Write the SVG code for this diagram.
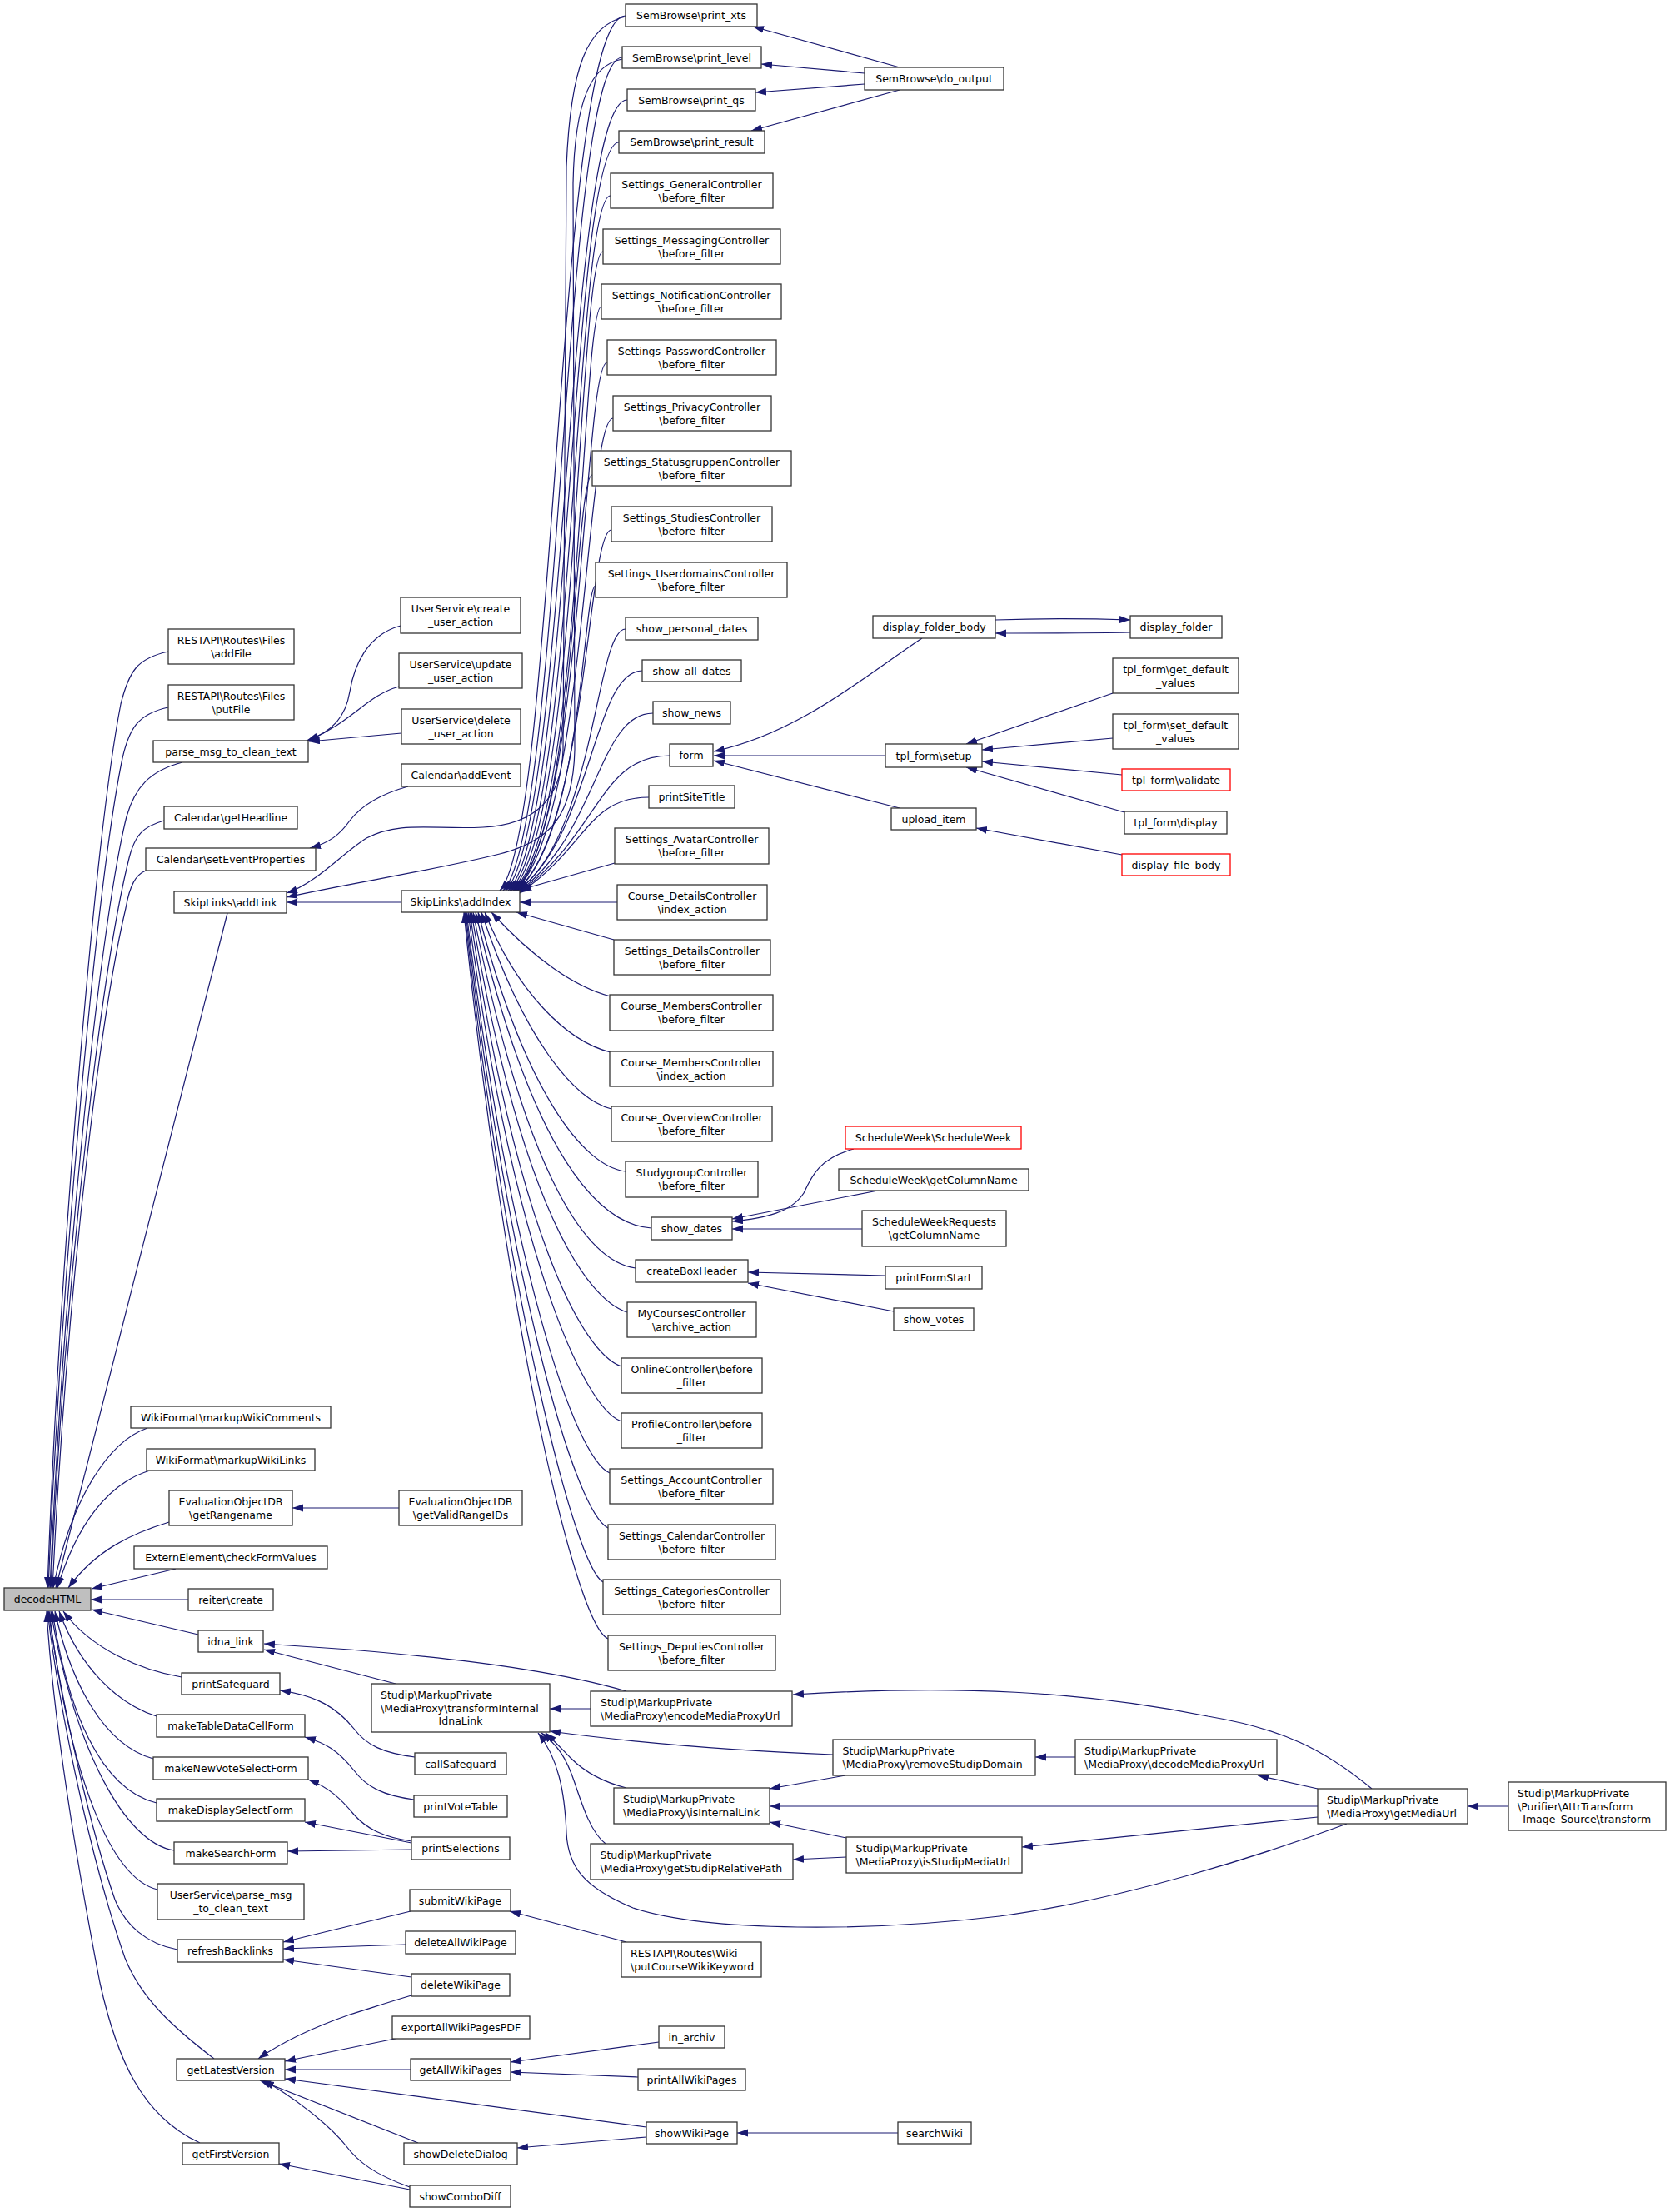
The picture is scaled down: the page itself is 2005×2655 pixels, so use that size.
<svg xmlns="http://www.w3.org/2000/svg" width="2005" height="2655" viewBox="0 0 2005 2655">
<defs>
<style>
.nd rect{fill:#fff;stroke:#333;stroke-width:1.3}
.root rect{fill:#bfbfbf}
.red rect{stroke:#f00}
text{font-family:"DejaVu Sans",sans-serif;font-size:12.5px;fill:#000}
.c{text-anchor:middle}
.e path{fill:none;stroke:#191970;stroke-width:1.2;marker-end:url(#ah)}
</style>
<marker id="ah" markerUnits="userSpaceOnUse" markerWidth="14" markerHeight="10" refX="13" refY="4.5" orient="auto"><path d="M0,0 L13,4.5 L0,9 z" fill="#191970"/></marker>
</defs>
<rect width="2005" height="2655" fill="#fff"/>
<g id="edges" class="e">
<!-- to decodeHTML -->
<path d="M202,782 C165,790 155,805 145,845 C115,1000 72,1500 57,1906"/>
<path d="M202,849 C165,857 155,875 147,910 C118,1050 75,1500 58,1906"/>
<path d="M219,915 C180,925 162,945 152,980 C122,1100 78,1500 60,1906"/>
<path d="M197,985 C172,992 162,1002 155,1030 C125,1150 80,1500 61,1906"/>
<path d="M175,1045 C163,1050 156,1062 151,1090 C125,1200 83,1500 63,1906"/>
<path d="M273,1096 L67,1906"/>
<path d="M177,1714 C130,1730 85,1800 64,1906"/>
<path d="M180,1765 C130,1780 92,1830 69,1906"/>
<path d="M203,1827 C160,1840 115,1860 82,1906"/>
<path d="M211,1883 L110,1907"/>
<path d="M226,1920 L109,1920"/>
<path d="M238,1962 L110,1932"/>
<path d="M218,2013 C170,2005 110,1980 76,1934"/>
<path d="M188,2060 C140,2045 95,2000 71,1934"/>
<path d="M184,2111 C125,2095 85,2020 66,1934"/>
<path d="M188,2164 C120,2148 80,2050 63,1934"/>
<path d="M209,2221 C150,2212 90,2100 61,1934"/>
<path d="M189,2268 C135,2255 85,2140 59,1934"/>
<path d="M213,2340 C175,2333 150,2310 138,2280 C110,2200 75,2050 58,1934"/>
<path d="M257,2471 C210,2435 170,2400 150,2350 C115,2250 75,2080 57,1934"/>
<path d="M240,2572 C170,2540 140,2470 120,2380 C95,2250 65,2080 56,1934"/>
<!-- parse_msg, setEventProperties -->
<path d="M481,751 C440,762 425,800 420,830 C415,860 400,878 368,889"/>
<path d="M479,824 C440,835 425,865 370,889"/>
<path d="M482,880 L371,890"/>
<path d="M490,944 C450,955 430,972 420,985 C408,1002 395,1012 372,1018"/>
<!-- addLink -->
<path d="M482,1083 L344,1083"/>
<path d="M751,20 C705,30 685,80 680,200 L676,900 C674,960 640,990 580,993 C520,996 480,985 440,1006 C410,1025 380,1060 344,1072"/>
<path d="M747,71 C710,78 690,120 688,220 L690,900 C688,980 660,1010 600,1025 C520,1045 420,1060 344,1077"/>
<!-- addIndex upper -->
<path d="M751,19 C668,19 668,1000 600,1069"/>
<path d="M747,69 C675,69 675,1000 604,1069"/>
<path d="M753,120 C680,120 680,1000 607,1069"/>
<path d="M743,171 C685,171 685,1000 610,1069"/>
<path d="M733,235 C690,235 690,1000 612,1069"/>
<path d="M724,302 C694,302 694,1000 614,1069"/>
<path d="M722,368 C698,368 698,1000 616,1069"/>
<path d="M729,435 C700,435 700,1000 617,1069"/>
<path d="M736,502 C703,502 703,1000 618,1069"/>
<path d="M711,570 C690,570 690,1000 619,1069"/>
<path d="M734,636 C705,636 705,1000 620,1069"/>
<path d="M715,703 C700,703 700,1000 621,1069"/>
<path d="M751,755 C715,755 715,1000 622,1069"/>
<path d="M771,805 C712,805 712,1000 622,1069"/>
<path d="M784,856 C718,856 718,1000 623,1070"/>
<path d="M804,907 C720,907 720,1000 624,1071"/>
<path d="M779,957 C705,957 705,1017 624,1072"/>
<path d="M738,1036 L625,1068"/>
<path d="M741,1083 L624,1083"/>
<!-- addIndex lower -->
<path d="M737,1128 L620,1095"/>
<path d="M733,1196 C690,1185 640,1150 590,1095"/>
<path d="M733,1263 C680,1250 620,1190 582,1095"/>
<path d="M734,1331 C690,1320 630,1250 578,1095"/>
<path d="M751,1406 C700,1400 630,1310 574,1095"/>
<path d="M782,1474 C720,1470 640,1390 571,1095"/>
<path d="M763,1522 C710,1515 635,1430 568,1095"/>
<path d="M753,1575 C705,1560 625,1450 566,1095"/>
<path d="M746,1640 C700,1625 620,1480 564,1095"/>
<path d="M746,1706 C700,1690 615,1500 562,1095"/>
<path d="M732,1768 C690,1750 612,1520 560,1095"/>
<path d="M730,1834 C690,1815 610,1540 559,1095"/>
<path d="M724,1899 C690,1880 608,1560 558,1095"/>
<path d="M730,1967 C690,1950 606,1580 557,1095"/>
<!-- SemBrowse -->
<path d="M1080,81 L904,32"/>
<path d="M1038,88 L914,77"/>
<path d="M1038,101 L907,111"/>
<path d="M1080,108 L902,157"/>
<!-- form, folder, tpl_form -->
<path d="M1107,766 C1040,810 960,880 857,902"/>
<path d="M1063,907 L857,907"/>
<path d="M1080,970 L857,913"/>
<path d="M1195,744 C1250,742 1300,742 1357,744"/>
<path d="M1357,759 C1300,760 1250,760 1195,760"/>
<path d="M1336,832 L1160,893"/>
<path d="M1336,886 L1179,900"/>
<path d="M1347,930 L1179,914"/>
<path d="M1350,975 L1160,921"/>
<path d="M1347,1026 L1172,994"/>
<!-- show_dates, createBoxHeader -->
<path d="M1025,1379 C985,1390 975,1410 965,1432 C950,1455 920,1462 879,1466"/>
<path d="M1054,1429 L879,1463"/>
<path d="M1035,1475 L879,1475"/>
<path d="M1063,1531 L898,1527"/>
<path d="M1073,1574 L898,1540"/>
<!-- misc column 1/2 -->
<path d="M479,1810 L351,1810"/>
<path d="M752,2030 C690,2012 600,1995 420,1980 L317,1973"/>
<path d="M475,2021 L317,1980"/>
<path d="M498,2109 C460,2104 440,2095 425,2075 C405,2050 380,2035 336,2029"/>
<path d="M497,2160 C460,2155 440,2145 425,2125 C405,2100 390,2092 366,2085"/>
<path d="M494,2210 C460,2205 440,2195 425,2178 C410,2160 395,2145 370,2136"/>
<path d="M494,2212 L366,2187"/>
<path d="M494,2220 L345,2222"/>
<path d="M493,2294 L340,2331"/>
<path d="M487,2334 L340,2339"/>
<path d="M494,2373 L340,2352"/>
<path d="M494,2395 C460,2405 440,2412 420,2418 C380,2432 340,2450 310,2471"/>
<path d="M479,2446 L342,2474"/>
<path d="M493,2484 L342,2484"/>
<path d="M776,2553 L342,2495"/>
<path d="M502,2572 L312,2497"/>
<path d="M492,2625 C450,2610 430,2595 415,2575 C395,2550 350,2515 316,2497"/>
<path d="M492,2628 L335,2597"/>
<path d="M791,2451 L613,2475"/>
<path d="M766,2493 L613,2487"/>
<path d="M776,2565 L621,2578"/>
<path d="M1078,2560 L885,2560"/>
<path d="M752,2331 L612,2294"/>
<!-- MediaProxy -->
<path d="M709,2051 L660,2051"/>
<path d="M1000,2106 C850,2100 750,2090 660,2078"/>
<path d="M752,2146 C720,2138 700,2125 685,2110 C675,2100 668,2092 655,2080"/>
<path d="M727,2213 C710,2200 700,2170 690,2140 C680,2110 670,2095 650,2080"/>
<path d="M1617,2189 C1520,2225 1350,2280 1200,2300 C1050,2318 850,2320 760,2290 C700,2265 682,2240 680,2200 C678,2150 670,2110 646,2080"/>
<path d="M1647,2147 C1590,2100 1540,2075 1450,2060 C1300,2030 1150,2022 952,2034"/>
<path d="M1291,2109 L1243,2109"/>
<path d="M1582,2147 L1510,2131"/>
<path d="M1015,2131 L924,2147"/>
<path d="M1582,2168 L924,2168"/>
<path d="M1016,2206 L924,2187"/>
<path d="M1582,2181 L1227,2217"/>
<path d="M1016,2229 L952,2232"/>
<path d="M1811,2168 L1762,2168"/>
</g>
<g id="nodes">
<g id="n_decodeHTML" class="nd root"><rect x="5" y="1906" width="104" height="27"/><text class="c" x="57" y="1924">decodeHTML</text></g>
<g id="n_addFile" class="nd"><rect x="202" y="755" width="151" height="42"/><text class="c" x="277.5" y="772.5">RESTAPI\Routes\Files</text><text class="c" x="277.5" y="788.5">\addFile</text></g>
<g id="n_putFile" class="nd"><rect x="202" y="822" width="151" height="42"/><text class="c" x="277.5" y="839.5">RESTAPI\Routes\Files</text><text class="c" x="277.5" y="855.5">\putFile</text></g>
<g id="n_parse_msg" class="nd"><rect x="184" y="889" width="186" height="26"/><text class="c" x="277" y="906.5">parse_msg_to_clean_text</text></g>
<g id="n_getHeadline" class="nd"><rect x="197" y="968" width="160" height="27"/><text class="c" x="277" y="986">Calendar\getHeadline</text></g>
<g id="n_setEventProperties" class="nd"><rect x="175" y="1018" width="204" height="27"/><text class="c" x="277" y="1036">Calendar\setEventProperties</text></g>
<g id="n_addLink" class="nd"><rect x="209" y="1070" width="135" height="26"/><text class="c" x="276.5" y="1087.5">SkipLinks\addLink</text></g>
<g id="n_markupWikiComments" class="nd"><rect x="157" y="1688" width="240" height="26"/><text class="c" x="277" y="1705.5">WikiFormat\markupWikiComments</text></g>
<g id="n_markupWikiLinks" class="nd"><rect x="176" y="1739" width="202" height="26"/><text class="c" x="277" y="1756.5">WikiFormat\markupWikiLinks</text></g>
<g id="n_getRangename" class="nd"><rect x="203" y="1789" width="148" height="42"/><text class="c" x="277" y="1806.5">EvaluationObjectDB</text><text class="c" x="277" y="1822.5">\getRangename</text></g>
<g id="n_checkFormValues" class="nd"><rect x="161" y="1856" width="232" height="27"/><text class="c" x="277" y="1874">ExternElement\checkFormValues</text></g>
<g id="n_reiter_create" class="nd"><rect x="226" y="1907" width="102" height="26"/><text class="c" x="277" y="1924.5">reiter\create</text></g>
<g id="n_idna_link" class="nd"><rect x="238" y="1957" width="78" height="26"/><text class="c" x="277" y="1974.5">idna_link</text></g>
<g id="n_printSafeguard" class="nd"><rect x="218" y="2008" width="118" height="26"/><text class="c" x="277" y="2025.5">printSafeguard</text></g>
<g id="n_makeTableDataCellForm" class="nd"><rect x="188" y="2058" width="178" height="27"/><text class="c" x="277" y="2076">makeTableDataCellForm</text></g>
<g id="n_makeNewVoteSelectForm" class="nd"><rect x="184" y="2109" width="186" height="27"/><text class="c" x="277" y="2127">makeNewVoteSelectForm</text></g>
<g id="n_makeDisplaySelectForm" class="nd"><rect x="188" y="2159" width="178" height="27"/><text class="c" x="277" y="2177">makeDisplaySelectForm</text></g>
<g id="n_makeSearchForm" class="nd"><rect x="209" y="2211" width="136" height="26"/><text class="c" x="277" y="2228.5">makeSearchForm</text></g>
<g id="n_us_parse_msg" class="nd"><rect x="189" y="2261" width="176" height="43"/><text class="c" x="277" y="2279">UserService\parse_msg</text><text class="c" x="277" y="2295">_to_clean_text</text></g>
<g id="n_refreshBacklinks" class="nd"><rect x="213" y="2328" width="127" height="27"/><text class="c" x="276.5" y="2346">refreshBacklinks</text></g>
<g id="n_getLatestVersion" class="nd"><rect x="212" y="2471" width="130" height="26"/><text class="c" x="277" y="2488.5">getLatestVersion</text></g>
<g id="n_getFirstVersion" class="nd"><rect x="219" y="2572" width="116" height="26"/><text class="c" x="277" y="2589.5">getFirstVersion</text></g>

<g id="n_create_user_action" class="nd"><rect x="481" y="717" width="144" height="43"/><text class="c" x="553" y="735">UserService\create</text><text class="c" x="553" y="751">_user_action</text></g>
<g id="n_update_user_action" class="nd"><rect x="479" y="784" width="148" height="42"/><text class="c" x="553" y="801.5">UserService\update</text><text class="c" x="553" y="817.5">_user_action</text></g>
<g id="n_delete_user_action" class="nd"><rect x="482" y="851" width="143" height="42"/><text class="c" x="553.5" y="868.5">UserService\delete</text><text class="c" x="553.5" y="884.5">_user_action</text></g>
<g id="n_addEvent" class="nd"><rect x="482" y="917" width="143" height="27"/><text class="c" x="553.5" y="935">Calendar\addEvent</text></g>
<g id="n_addIndex" class="nd"><rect x="482" y="1069" width="142" height="26"/><text class="c" x="553" y="1086.5">SkipLinks\addIndex</text></g>
<g id="n_getValidRangeIDs" class="nd"><rect x="479" y="1789" width="148" height="42"/><text class="c" x="553" y="1806.5">EvaluationObjectDB</text><text class="c" x="553" y="1822.5">\getValidRangeIDs</text></g>
<g id="n_transformInternalIdnaLink" class="nd"><rect x="446" y="2021" width="214" height="58"/><text x="457" y="2039">Studip\MarkupPrivate</text><text x="457" y="2054.5">\MediaProxy\transformInternal</text><text class="c" x="553" y="2070">IdnaLink</text></g>
<g id="n_callSafeguard" class="nd"><rect x="498" y="2104" width="110" height="26"/><text class="c" x="553" y="2121.5">callSafeguard</text></g>
<g id="n_printVoteTable" class="nd"><rect x="497" y="2155" width="112" height="26"/><text class="c" x="553" y="2172.5">printVoteTable</text></g>
<g id="n_printSelections" class="nd"><rect x="494" y="2205" width="118" height="27"/><text class="c" x="553" y="2223">printSelections</text></g>
<g id="n_submitWikiPage" class="nd"><rect x="492" y="2268" width="121" height="26"/><text class="c" x="552.5" y="2285.5">submitWikiPage</text></g>
<g id="n_deleteAllWikiPage" class="nd"><rect x="487" y="2318" width="132" height="27"/><text class="c" x="553" y="2336">deleteAllWikiPage</text></g>
<g id="n_deleteWikiPage" class="nd"><rect x="494" y="2369" width="118" height="27"/><text class="c" x="553" y="2387">deleteWikiPage</text></g>
<g id="n_exportAllWikiPagesPDF" class="nd"><rect x="471" y="2420" width="165" height="27"/><text class="c" x="553.5" y="2438">exportAllWikiPagesPDF</text></g>
<g id="n_getAllWikiPages" class="nd"><rect x="493" y="2471" width="120" height="26"/><text class="c" x="553" y="2488.5">getAllWikiPages</text></g>
<g id="n_showDeleteDialog" class="nd"><rect x="485" y="2572" width="136" height="26"/><text class="c" x="553" y="2589.5">showDeleteDialog</text></g>
<g id="n_showComboDiff" class="nd"><rect x="492" y="2623" width="121" height="26"/><text class="c" x="552.5" y="2640.5">showComboDiff</text></g>

<g id="n_print_xts" class="nd"><rect x="751" y="5" width="158" height="27"/><text class="c" x="830" y="23">SemBrowse\print_xts</text></g>
<g id="n_print_level" class="nd"><rect x="747" y="56" width="167" height="26"/><text class="c" x="830.5" y="73.5">SemBrowse\print_level</text></g>
<g id="n_print_qs" class="nd"><rect x="753" y="107" width="154" height="26"/><text class="c" x="830" y="124.5">SemBrowse\print_qs</text></g>
<g id="n_print_result" class="nd"><rect x="743" y="157" width="175" height="27"/><text class="c" x="830.5" y="175">SemBrowse\print_result</text></g>
<g id="n_s_general" class="nd"><rect x="733" y="208" width="195" height="42"/><text class="c" x="830.5" y="225.5">Settings_GeneralController</text><text class="c" x="830.5" y="241.5">\before_filter</text></g>
<g id="n_s_messaging" class="nd"><rect x="724" y="275" width="213" height="42"/><text class="c" x="830.5" y="292.5">Settings_MessagingController</text><text class="c" x="830.5" y="308.5">\before_filter</text></g>
<g id="n_s_notification" class="nd"><rect x="722" y="341" width="216" height="42"/><text class="c" x="830" y="358.5">Settings_NotificationController</text><text class="c" x="830" y="374.5">\before_filter</text></g>
<g id="n_s_password" class="nd"><rect x="729" y="408" width="203" height="42"/><text class="c" x="830.5" y="425.5">Settings_PasswordController</text><text class="c" x="830.5" y="441.5">\before_filter</text></g>
<g id="n_s_privacy" class="nd"><rect x="736" y="475" width="190" height="42"/><text class="c" x="831" y="492.5">Settings_PrivacyController</text><text class="c" x="831" y="508.5">\before_filter</text></g>
<g id="n_s_statusgruppen" class="nd"><rect x="711" y="541" width="239" height="42"/><text class="c" x="830.5" y="558.5">Settings_StatusgruppenController</text><text class="c" x="830.5" y="574.5">\before_filter</text></g>
<g id="n_s_studies" class="nd"><rect x="734" y="608" width="193" height="42"/><text class="c" x="830.5" y="625.5">Settings_StudiesController</text><text class="c" x="830.5" y="641.5">\before_filter</text></g>
<g id="n_s_userdomains" class="nd"><rect x="715" y="675" width="230" height="42"/><text class="c" x="830" y="692.5">Settings_UserdomainsController</text><text class="c" x="830" y="708.5">\before_filter</text></g>
<g id="n_show_personal_dates" class="nd"><rect x="751" y="741" width="159" height="27"/><text class="c" x="830.5" y="759">show_personal_dates</text></g>
<g id="n_show_all_dates" class="nd"><rect x="771" y="792" width="119" height="26"/><text class="c" x="830.5" y="809.5">show_all_dates</text></g>
<g id="n_show_news" class="nd"><rect x="784" y="842" width="93" height="27"/><text class="c" x="830.5" y="860">show_news</text></g>
<g id="n_form" class="nd"><rect x="804" y="893" width="52" height="27"/><text class="c" x="830" y="911">form</text></g>
<g id="n_printSiteTitle" class="nd"><rect x="779" y="943" width="103" height="27"/><text class="c" x="830.5" y="961">printSiteTitle</text></g>
<g id="n_s_avatar" class="nd"><rect x="738" y="994" width="185" height="43"/><text class="c" x="830.5" y="1012">Settings_AvatarController</text><text class="c" x="830.5" y="1028">\before_filter</text></g>
<g id="n_c_details" class="nd"><rect x="741" y="1062" width="180" height="42"/><text class="c" x="831" y="1079.5">Course_DetailsController</text><text class="c" x="831" y="1095.5">\index_action</text></g>
<g id="n_s_details" class="nd"><rect x="737" y="1128" width="188" height="42"/><text class="c" x="831" y="1145.5">Settings_DetailsController</text><text class="c" x="831" y="1161.5">\before_filter</text></g>
<g id="n_c_members_bf" class="nd"><rect x="732" y="1194" width="196" height="43"/><text class="c" x="830" y="1212">Course_MembersController</text><text class="c" x="830" y="1228">\before_filter</text></g>
<g id="n_c_members_idx" class="nd"><rect x="732" y="1262" width="196" height="42"/><text class="c" x="830" y="1279.5">Course_MembersController</text><text class="c" x="830" y="1295.5">\index_action</text></g>
<g id="n_c_overview" class="nd"><rect x="734" y="1328" width="193" height="42"/><text class="c" x="830.5" y="1345.5">Course_OverviewController</text><text class="c" x="830.5" y="1361.5">\before_filter</text></g>
<g id="n_studygroup" class="nd"><rect x="751" y="1394" width="159" height="43"/><text class="c" x="830.5" y="1412">StudygroupController</text><text class="c" x="830.5" y="1428">\before_filter</text></g>
<g id="n_show_dates" class="nd"><rect x="782" y="1461" width="97" height="27"/><text class="c" x="830.5" y="1479">show_dates</text></g>
<g id="n_createBoxHeader" class="nd"><rect x="763" y="1512" width="135" height="27"/><text class="c" x="830.5" y="1530">createBoxHeader</text></g>
<g id="n_mycourses" class="nd"><rect x="753" y="1563" width="155" height="42"/><text class="c" x="830.5" y="1580.5">MyCoursesController</text><text class="c" x="830.5" y="1596.5">\archive_action</text></g>
<g id="n_online" class="nd"><rect x="746" y="1630" width="169" height="42"/><text class="c" x="830.5" y="1647.5">OnlineController\before</text><text class="c" x="830.5" y="1663.5">_filter</text></g>
<g id="n_profile" class="nd"><rect x="746" y="1696" width="169" height="42"/><text class="c" x="830.5" y="1713.5">ProfileController\before</text><text class="c" x="830.5" y="1729.5">_filter</text></g>
<g id="n_s_account" class="nd"><rect x="732" y="1763" width="196" height="42"/><text class="c" x="830" y="1780.5">Settings_AccountController</text><text class="c" x="830" y="1796.5">\before_filter</text></g>
<g id="n_s_calendar" class="nd"><rect x="730" y="1830" width="201" height="42"/><text class="c" x="830.5" y="1847.5">Settings_CalendarController</text><text class="c" x="830.5" y="1863.5">\before_filter</text></g>
<g id="n_s_categories" class="nd"><rect x="724" y="1896" width="213" height="42"/><text class="c" x="830.5" y="1913.5">Settings_CategoriesController</text><text class="c" x="830.5" y="1929.5">\before_filter</text></g>
<g id="n_s_deputies" class="nd"><rect x="730" y="1963" width="201" height="42"/><text class="c" x="830.5" y="1980.5">Settings_DeputiesController</text><text class="c" x="830.5" y="1996.5">\before_filter</text></g>
<g id="n_encodeMediaProxyUrl" class="nd"><rect x="709" y="2030" width="242" height="42"/><text x="721" y="2047.5">Studip\MarkupPrivate</text><text x="721" y="2063.5">\MediaProxy\encodeMediaProxyUrl</text></g>
<g id="n_isInternalLink" class="nd"><rect x="737" y="2146" width="187" height="43"/><text x="748" y="2164">Studip\MarkupPrivate</text><text x="748" y="2180">\MediaProxy\isInternalLink</text></g>
<g id="n_getStudipRelativePath" class="nd"><rect x="709" y="2213" width="243" height="43"/><text x="720.5" y="2231">Studip\MarkupPrivate</text><text x="720.5" y="2247">\MediaProxy\getStudipRelativePath</text></g>
<g id="n_putCourseWikiKeyword" class="nd"><rect x="746" y="2331" width="168" height="42"/><text x="757" y="2348.5">RESTAPI\Routes\Wiki</text><text x="757" y="2364.5">\putCourseWikiKeyword</text></g>
<g id="n_in_archiv" class="nd"><rect x="791" y="2432" width="79" height="26"/><text class="c" x="830.5" y="2449.5">in_archiv</text></g>
<g id="n_printAllWikiPages" class="nd"><rect x="766" y="2483" width="129" height="26"/><text class="c" x="830.5" y="2500.5">printAllWikiPages</text></g>
<g id="n_showWikiPage" class="nd"><rect x="776" y="2547" width="109" height="26"/><text class="c" x="830.5" y="2564.5">showWikiPage</text></g>

<g id="n_do_output" class="nd"><rect x="1038" y="81" width="167" height="27"/><text class="c" x="1121.5" y="99">SemBrowse\do_output</text></g>
<g id="n_display_folder_body" class="nd"><rect x="1048" y="739" width="147" height="27"/><text class="c" x="1121.5" y="757">display_folder_body</text></g>
<g id="n_tpl_setup" class="nd"><rect x="1063" y="893" width="116" height="28"/><text class="c" x="1121" y="911.5">tpl_form\setup</text></g>
<g id="n_upload_item" class="nd"><rect x="1070" y="970" width="102" height="26"/><text class="c" x="1121" y="987.5">upload_item</text></g>
<g id="n_ScheduleWeek" class="nd red"><rect x="1015" y="1352" width="211" height="27"/><text class="c" x="1120.5" y="1370">ScheduleWeek\ScheduleWeek</text></g>
<g id="n_sw_getColumnName" class="nd"><rect x="1007" y="1403" width="228" height="26"/><text class="c" x="1121" y="1420.5">ScheduleWeek\getColumnName</text></g>
<g id="n_swr_getColumnName" class="nd"><rect x="1035" y="1453" width="173" height="43"/><text class="c" x="1121.5" y="1471">ScheduleWeekRequests</text><text class="c" x="1121.5" y="1487">\getColumnName</text></g>
<g id="n_printFormStart" class="nd"><rect x="1063" y="1520" width="116" height="27"/><text class="c" x="1121" y="1538">printFormStart</text></g>
<g id="n_show_votes" class="nd"><rect x="1073" y="1570" width="96" height="27"/><text class="c" x="1121" y="1588">show_votes</text></g>
<g id="n_removeStudipDomain" class="nd"><rect x="1000" y="2088" width="243" height="43"/><text x="1011.5" y="2106">Studip\MarkupPrivate</text><text x="1011.5" y="2122">\MediaProxy\removeStudipDomain</text></g>
<g id="n_isStudipMediaUrl" class="nd"><rect x="1016" y="2205" width="211" height="43"/><text x="1027.5" y="2223">Studip\MarkupPrivate</text><text x="1027.5" y="2239">\MediaProxy\isStudipMediaUrl</text></g>
<g id="n_searchWiki" class="nd"><rect x="1078" y="2547" width="88" height="26"/><text class="c" x="1122" y="2564.5">searchWiki</text></g>

<g id="n_display_folder" class="nd"><rect x="1357" y="739" width="110" height="27"/><text class="c" x="1412" y="757">display_folder</text></g>
<g id="n_get_default_values" class="nd"><rect x="1336" y="790" width="151" height="42"/><text class="c" x="1411.5" y="807.5">tpl_form\get_default</text><text class="c" x="1411.5" y="823.5">_values</text></g>
<g id="n_set_default_values" class="nd"><rect x="1336" y="857" width="151" height="42"/><text class="c" x="1411.5" y="874.5">tpl_form\set_default</text><text class="c" x="1411.5" y="890.5">_values</text></g>
<g id="n_tpl_validate" class="nd red"><rect x="1347" y="923" width="130" height="26"/><text class="c" x="1412" y="940.5">tpl_form\validate</text></g>
<g id="n_tpl_display" class="nd"><rect x="1350" y="974" width="123" height="27"/><text class="c" x="1411.5" y="992">tpl_form\display</text></g>
<g id="n_display_file_body" class="nd red"><rect x="1347" y="1025" width="130" height="26"/><text class="c" x="1412" y="1042.5">display_file_body</text></g>
<g id="n_decodeMediaProxyUrl" class="nd"><rect x="1291" y="2088" width="242" height="42"/><text x="1302" y="2105.5">Studip\MarkupPrivate</text><text x="1302" y="2121.5">\MediaProxy\decodeMediaProxyUrl</text></g>
<g id="n_getMediaUrl" class="nd"><rect x="1582" y="2147" width="180" height="42"/><text x="1593" y="2164.5">Studip\MarkupPrivate</text><text x="1593" y="2180.5">\MediaProxy\getMediaUrl</text></g>
<g id="n_attrTransform" class="nd"><rect x="1811" y="2139" width="189" height="58"/><text x="1822" y="2157">Studip\MarkupPrivate</text><text x="1822" y="2172.5">\Purifier\AttrTransform</text><text x="1822" y="2188">_Image_Source\transform</text></g>
</g>
</svg>
